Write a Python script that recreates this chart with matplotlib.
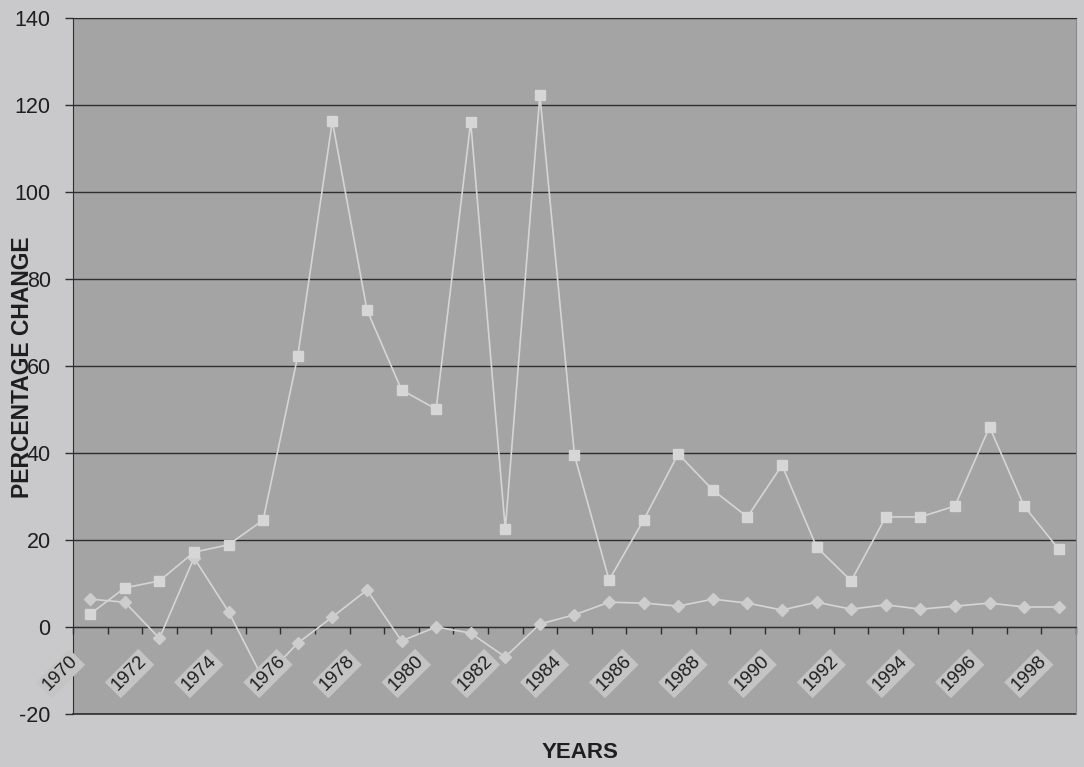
import matplotlib
matplotlib.use("Agg")
import matplotlib.pyplot as plt
from matplotlib.ticker import MultipleLocator, FixedLocator, NullFormatter

plt.rcParams['font.family'] = ['Liberation Sans', 'DejaVu Sans']
plt.rcParams['axes.unicode_minus'] = False

years = list(range(1970, 1999))
series_sq = [3.0, 9.0, 10.6, 17.2, 18.9, 24.6, 62.3, 116.3, 72.9, 54.5,
             50.1, 116.1, 22.5, 122.3, 39.5, 10.8, 24.6, 39.8, 31.5, 25.3,
             37.2, 18.4, 10.6, 25.3, 25.3, 27.8, 46.0, 27.8, 17.9]
series_dm = [6.4, 5.7, -2.6, 15.9, 3.5, -12.0, -3.7, 2.3, 8.5, -3.2,
             0.0, -1.4, -6.9, 0.7, 2.8, 5.7, 5.5, 4.8, 6.4, 5.5,
             3.9, 5.7, 4.1, 5.1, 4.1, 4.8, 5.5, 4.6, 4.6]
year_labels = [str(y) for y in years[::2]]

page_bg = '#c9c9cb'
plot_bg = '#a4a4a5'
line_col = '#d5d5d5'
dark = '#2e2e2e'

fig = plt.figure(figsize=(10.84, 7.67), dpi=100, facecolor=page_bg)
ax = fig.add_axes([0.0673, 0.0691, 0.9253, 0.9074], facecolor=plot_bg)

x = list(range(len(years)))
ax.plot(x, series_dm, color=line_col, lw=1.2, marker='D', ms=6,
        mfc='#cdcdcd', mec='#cdcdcd', zorder=3)
ax.plot(x, series_sq, color=line_col, lw=1.2, marker='s', ms=7,
        mfc='#d6d6d6', mec='#d6d6d6', zorder=3)

ax.set_xlim(-0.5, len(years) - 0.5)
ax.set_ylim(-20, 140)
ax.yaxis.set_major_locator(MultipleLocator(20))
ax.grid(axis='y', color=dark, lw=1.0, zorder=1)
ax.axhline(-20, color=dark, lw=1.2, clip_on=False, zorder=2)

# category axis sits on the zero line, ticks between categories
ax.spines['bottom'].set_position(('data', 0))
ax.spines['bottom'].set_color(dark)
ax.spines['left'].set_color(dark)
ax.spines['top'].set_color(dark)
ax.spines['right'].set_color('#8a8a8a')
ax.xaxis.set_major_locator(FixedLocator([i - 0.5 for i in range(len(years) + 1)]))
ax.xaxis.set_major_formatter(NullFormatter())
ax.tick_params(axis='x', direction='out', length=5, width=1, color=dark)
ax.tick_params(axis='y', direction='out', length=6, width=1, color=dark,
               labelsize=15.5, labelcolor='#1e1e1e', pad=10)

for i, lab in zip(x[::2], year_labels):
    ax.annotate(lab, xy=(i, 0), xycoords='data', xytext=(-21.5, -33.5),
                textcoords='offset points', rotation=45, rotation_mode='anchor',
                ha='center', va='center', fontsize=13.5, color='#1e1e1e',
                bbox=dict(boxstyle='square,pad=0.15', fc='#c4c4c5', ec='none'),
                zorder=5, annotation_clip=False)

fig.text(0.0212, 0.5215, 'PERCENTAGE CHANGE', rotation=90, fontsize=16.5,
         fontweight='bold', color='#1e1e1e', ha='center', va='center')
fig.text(0.535, 0.019, 'YEARS', fontsize=16, fontweight='bold',
         color='#1e1e1e', ha='center', va='center')

fig.savefig('out.png', dpi=100, facecolor=page_bg)
